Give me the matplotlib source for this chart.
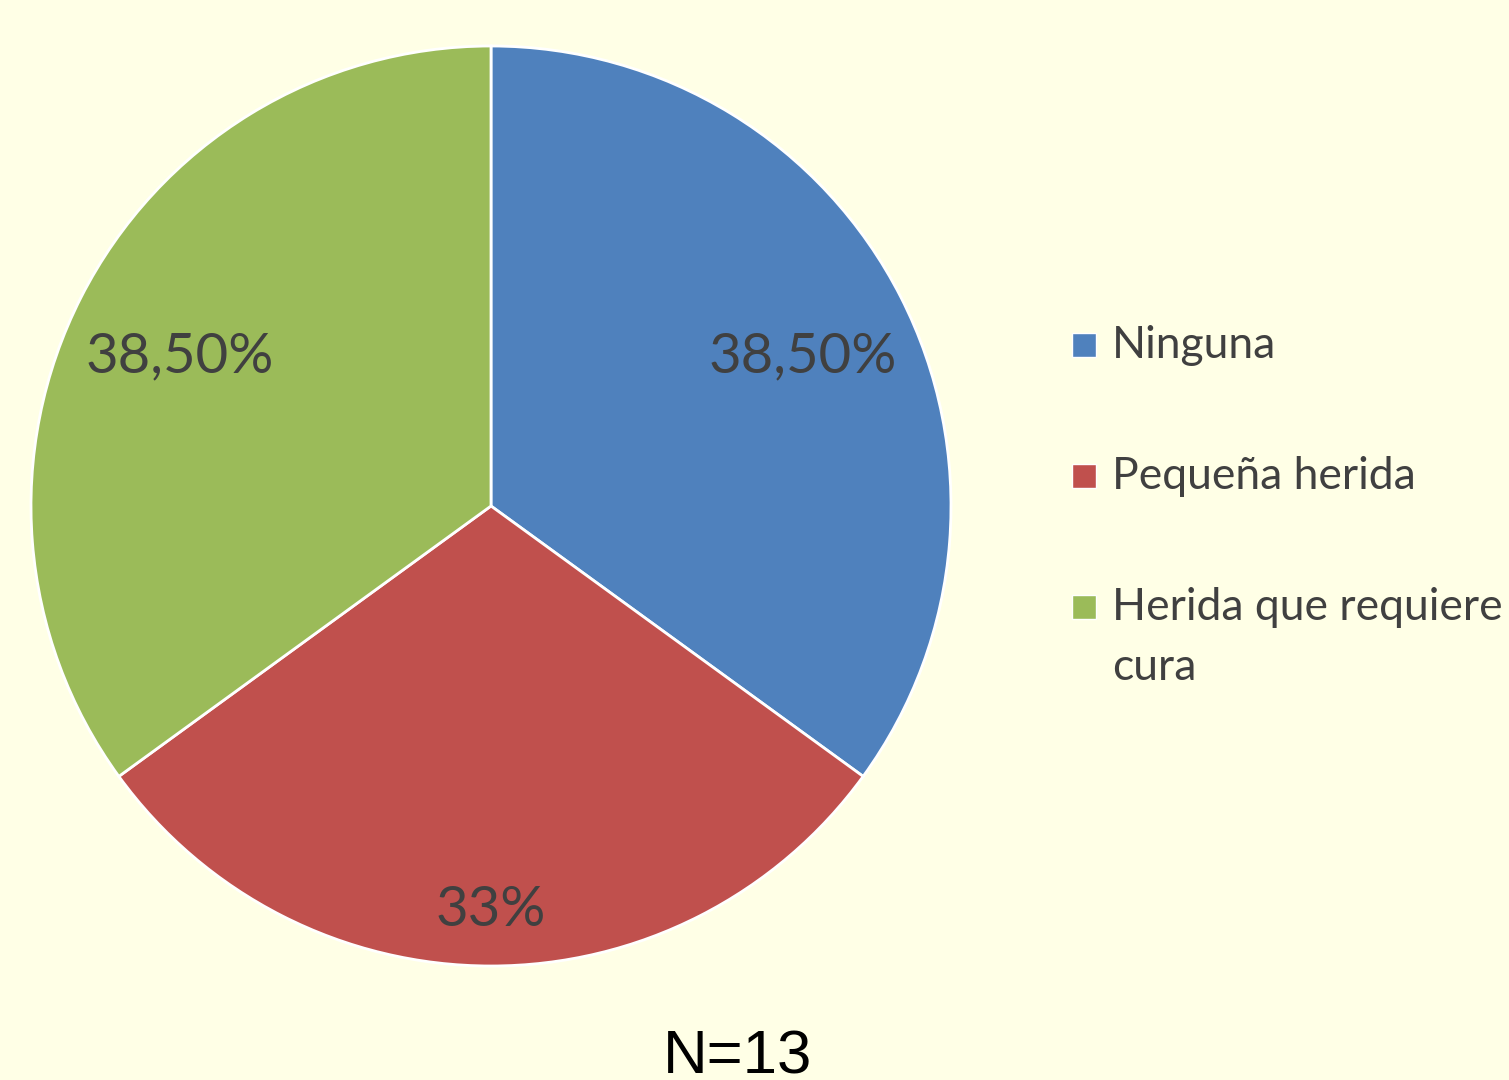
import matplotlib
matplotlib.use("Agg")
import matplotlib.pyplot as plt
from matplotlib.patches import Rectangle
import numpy as np

# data
categories = ["Ninguna", "Pequeña herida", "Herida que requiere\ncura"]
values = [38.5, 33, 38.5]
value_labels = ["38,50%", "33%", "38,50%"]
colors = ["#4F81BD", "#C0504D", "#9BBB59"]
label_dist = [0.76, 0.86, 0.76]

bg = "#FFFFE6"
txt = "#404040"
font = ["Lato", "DejaVu Sans"]

W, H = 1509, 1080
fig = plt.figure(figsize=(W / 100, H / 100), dpi=100, facecolor=bg)

# pie axes: center ~ (491, 506) px, radius ~ 460 px
cx, cy, r = 491, 506, 460
lim = 1.02
half = r * lim
ax = fig.add_axes([(cx - half) / W, (H - cy - half) / H, 2 * half / W, 2 * half / H])
ax.set_facecolor(bg)

wedges, _ = ax.pie(values, colors=colors, startangle=90, counterclock=False,
                   wedgeprops=dict(edgecolor="white", linewidth=2))
ax.set_xlim(-lim, lim)
ax.set_ylim(-lim, lim)
ax.set_aspect("equal")

# percentage labels placed along each wedge's mid angle
for w, lab, d in zip(wedges, value_labels, label_dist):
    mid = np.deg2rad((w.theta1 + w.theta2) / 2)
    ax.text(d * np.cos(mid), d * np.sin(mid) - 0.02, lab, ha="center", va="center",
            fontsize=40.5, color=txt, family=font)

# legend drawn by hand so the square sits on the first line of each entry
leg_x, leg_y0, leg_step, line_h = 1072, 358, 131, 60
sq = 24
for i, (cat, col) in enumerate(zip(categories, colors)):
    base = leg_y0 + i * leg_step
    fig.patches.append(Rectangle((leg_x / W, 1 - (base - 1) / H), sq / W, sq / H,
                                 transform=fig.transFigure, facecolor=col,
                                 edgecolor="white", linewidth=1))
    for j, line in enumerate(cat.split("\n")):
        fig.text((leg_x + sq + 16) / W, 1 - (base + j * line_h) / H, line,
                 ha="left", va="baseline", fontsize=32, color=txt, family=font)

fig.text(738 / W, 1 - 1074 / H, "N=13", ha="center", va="baseline",
         fontsize=44.5, color="black", family=["Liberation Sans", "DejaVu Sans"])

fig.savefig("out.png", dpi=100, facecolor=bg)
